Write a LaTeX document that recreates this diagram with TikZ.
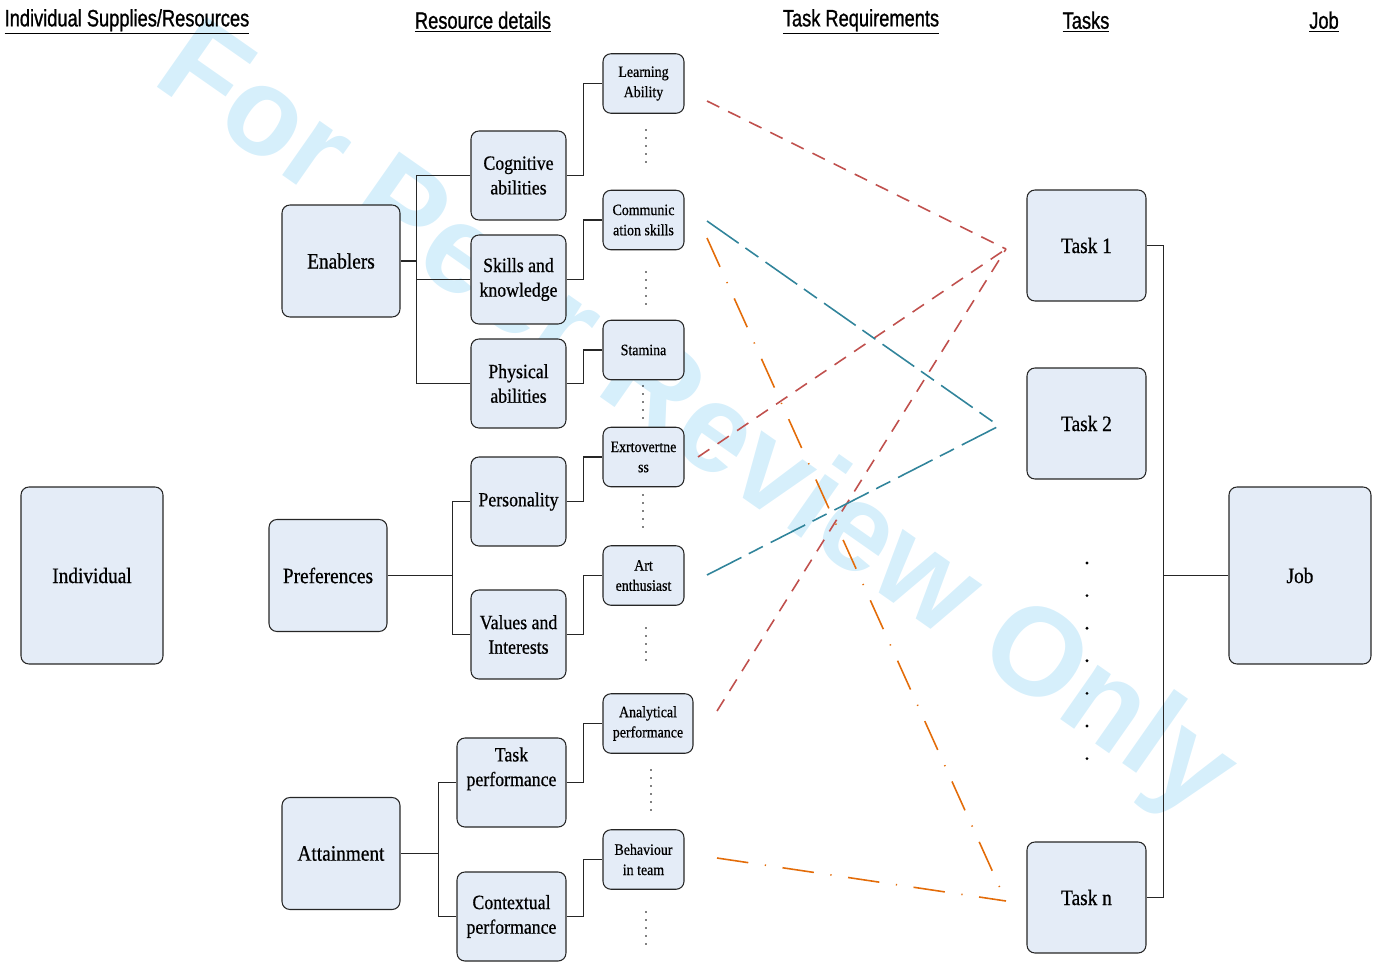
\documentclass[tikz,border=0pt]{standalone}
\usepackage{fontspec}
\setmainfont{Liberation Serif}[FakeStretch=0.88, FakeBold=0.6]
\newfontfamily\hdrfont{Liberation Sans}[FakeStretch=0.77, FakeBold=1]
\newfontfamily\wmfont{Liberation Sans}
\definecolor{boxfill}{HTML}{E4ECF7}
\definecolor{wmblue}{HTML}{D6EFFB}
\definecolor{linkred}{HTML}{C0504D}
\definecolor{linkteal}{HTML}{31849B}
\definecolor{linkorange}{HTML}{E36C09}

\begin{document}
\begin{tikzpicture}[x=0.02cm, y=-0.02cm,
    box/.style={draw=black!85, semithick, fill=boxfill, rounded corners=4.5pt, align=center, inner sep=2pt},
    bigbox/.style={box, minimum width=2.36cm, minimum height=2.24cm, font=\fontsize{12.5}{15}\selectfont},
    midbox/.style={box, minimum width=1.9cm, minimum height=1.78cm, font=\fontsize{11.5}{14}\selectfont},
    smallbox/.style={box, minimum width=1.62cm, minimum height=1.19cm, font=\fontsize{9}{11.5}\selectfont},
    header/.style={font=\hdrfont\fontsize{13.5}{15}\selectfont},
    link/.style={draw=black!85, semithick},
    reddash/.style={linkred, line width=0.9pt, dash pattern=on 7.8pt off 5.6pt},
    tealdash/.style={linkteal, line width=0.9pt, dash pattern=on 22pt off 4.7pt on 9pt off 5pt},
    orangedash/.style={linkorange, line width=0.9pt, dash pattern=on 18pt off 9.5pt on 0.7pt off 9.5pt}]

    \useasboundingbox (0,0) rectangle (1374,964);

    % watermark
    \node[rotate=-35, text=wmblue, font=\wmfont\bfseries\fontsize{71}{84}\selectfont] (wm) at (694,424) {For Peer Review Only};

    % column headers
    \node[header] (h1) at (127,22) {\underline{Individual Supplies/Resources}};
    \node[header] (h2) at (483,22) {\underline{Resource details}};
    \node[header] (h3) at (861,22) {\underline{Task Requirements}};
    \node[header] (h4) at (1086,22) {\underline{Tasks}};
    \node[header] (h5) at (1324,22) {\underline{Job}};

    % individual
    \node[bigbox, minimum width=2.84cm, minimum height=3.54cm] (ind) at (92,575.5) {Individual};

    % supplies
    \node[bigbox] (enab) at (341,261) {Enablers};
    \node[bigbox] (pref) at (328,575.5) {Preferences};
    \node[bigbox] (attn) at (341,853.5) {Attainment};

    % resource details
    \node[midbox] (cog) at (518.5,175.5) {Cognitive\\abilities};
    \node[midbox] (skill) at (518.5,279.5) {Skills and\\knowledge};
    \node[midbox] (phys) at (518.5,383.5) {Physical\\abilities};
    \node[midbox] (pers) at (518.5,501.5) {Personality};
    \node[midbox] (vals) at (518.5,634.5) {Values and\\Interests};
    \node[midbox, minimum width=2.18cm] (tperf) at (511.5,782.5) {Task\\performance\\[4pt]};
    \node[midbox, minimum width=2.18cm] (cperf) at (511.5,916.5) {Contextual\\performance};

    % task requirements
    \node[smallbox] (learn) at (643.5,83.5) {Learning\\Ability};
    \node[smallbox] (comm) at (643.5,220) {Communic\\ation skills};
    \node[smallbox] (stam) at (643.5,350) {Stamina};
    \node[smallbox] (extro) at (643.5,457) {Exrtovertne\\ss};
    \node[smallbox] (art) at (643.5,575.5) {Art\\enthusiast};
    \node[smallbox, minimum width=1.8cm] (anal) at (648,723.5) {Analytical\\performance};
    \node[smallbox] (behav) at (643.5,859.5) {Behaviour\\in team};

    % tasks and job
    \node[bigbox, minimum width=2.38cm, minimum height=2.22cm] (task1) at (1086.5,245.5) {Task 1};
    \node[bigbox, minimum width=2.38cm, minimum height=2.22cm] (task2) at (1086.5,423.5) {Task 2};
    \node[bigbox, minimum width=2.38cm, minimum height=2.22cm] (taskn) at (1086.5,897.5) {Task n};
    \node[bigbox, minimum width=2.84cm, minimum height=3.54cm] (job) at (1300,575.5) {Job};

    % tree links
    \foreach \child in {cog, skill, phys}
        \draw[link] (\child.west) -- ++(-54,0) |- (enab.east);
    \foreach \child in {pers, vals}
        \draw[link] (\child.west) -- ++(-18,0) |- (pref.east);
    \foreach \child in {tperf, cperf}
        \draw[link] (\child.west) -- ++(-18,0) |- (attn.east);
    \foreach \src/\dst in {cog/learn, skill/comm, phys/stam, pers/extro, vals/art, tperf/anal, cperf/behav}
        \draw[link] (\src.east) -- ++(17,0) |- (\dst.west);
    \draw[link] (task1.east) -- ++(17,0) |- (job.west);
    \draw[link] (taskn.east) -- ++(17,0) |- (job.west);

    % vertical dots under the requirements
    \foreach \x/\y/\n in {646/130/4, 646/272/4, 643/386/4, 643/495/4, 646/628/4, 651/770/5, 646/912/4}
        \foreach \k in {0,...,\n}
            \fill (\x,\y+\k*8) circle (0.55pt);
    \foreach \k in {0,...,6}
        \fill (1087,563+\k*32.6) circle (0.9pt);

    % requirement to task links
    \coordinate (r1) at (707,101);
    \coordinate (r2) at (698,457);
    \coordinate (r3) at (717,711);
    \coordinate (t1in) at (1006,249);
    \coordinate (b1) at (707,221);
    \coordinate (b2) at (707,575);
    \coordinate (t2in) at (999,426);
    \coordinate (o1) at (707,238);
    \coordinate (o2) at (717,858);
    \coordinate (tnin) at (1000,888);
    \coordinate (tnlow) at (1006,901);

    \draw[reddash] (r1) -- (t1in);
    \draw[reddash] (r2) -- (t1in);
    \draw[reddash] (r3) -- (t1in);
    \draw[tealdash] (b1) -- (t2in);
    \draw[tealdash] (b2) -- (t2in);
    \draw[orangedash] (o1) -- (tnin);
    \draw[orangedash] (o2) -- (tnlow);
\end{tikzpicture}
\end{document}
